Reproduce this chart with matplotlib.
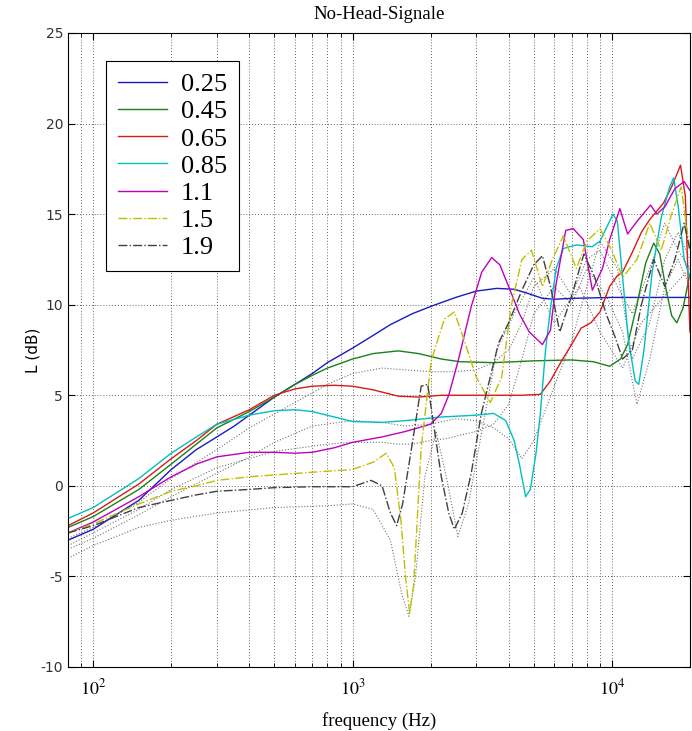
#!/usr/bin/env python3
"""
No-Head-Signale: level vs frequency for several distances (log frequency axis).
Saves out.png (692x731 px).
"""

import matplotlib.pyplot as plt
from matplotlib.ticker import LogLocator, NullFormatter, FixedLocator

# ---- Data (frequency in Hz, level in dB) ----
F_025 = [80, 100, 150, 200, 250, 300, 350, 400, 500, 600, 700, 800, 1000, 1200,
         1400, 1700, 2000, 2500, 3000, 3600, 4200, 4800, 5400, 6000, 7000, 10000, 20000]
L_025 = [-3.0, -2.4, -0.8, 0.9, 2.0, 2.7, 3.3, 3.9, 4.9, 5.6, 6.2, 6.8, 7.6, 8.3,
         8.9, 9.5, 9.9, 10.4, 10.75, 10.9, 10.85, 10.6, 10.35, 10.3, 10.35, 10.4, 10.4]

F_045 = [80, 100, 150, 200, 250, 300, 400, 500, 600, 700, 800, 1000, 1200, 1500,
         1800, 2200, 2600, 3500, 5000, 7000, 8500, 9800, 10800, 11500, 12500, 13500,
         14500, 15300, 16200, 17000, 17800, 18800, 20000]
L_045 = [-2.3, -1.7, -0.2, 1.2, 2.3, 3.2, 4.1, 4.9, 5.6, 6.1, 6.5, 7.0, 7.3, 7.45,
         7.3, 7.0, 6.85, 6.8, 6.9, 6.95, 6.85, 6.6, 7.0, 7.8, 10.0, 12.3,
         13.4, 12.8, 10.8, 9.4, 9.0, 9.8, 11.7]

F_065 = [80, 100, 150, 200, 250, 300, 400, 500, 600, 700, 850, 1000, 1200, 1500,
         1800, 2200, 3000, 4500, 5300, 5800, 6400, 7000, 7600, 8300, 9000, 9800,
         10500, 11000, 12000, 13000, 14000, 15800, 17000, 18400, 19200, 20000]
L_065 = [-2.2, -1.5, 0.1, 1.5, 2.5, 3.4, 4.2, 5.0, 5.35, 5.5, 5.55, 5.5, 5.3, 4.95,
         4.9, 5.0, 5.0, 5.0, 5.05, 5.8, 6.9, 7.8, 8.7, 9.0, 9.6, 11.0,
         11.6, 11.8, 12.9, 14.0, 14.7, 15.6, 16.5, 17.7, 16.0, 8.5]

F_085 = [80, 100, 150, 200, 250, 300, 400, 500, 600, 700, 850, 1000, 1300, 1600,
         2200, 3000, 3500, 3900, 4200, 4400, 4650, 4850, 5100, 5300, 5550, 5800,
         6100, 6500, 7300, 8400, 9000, 9500, 10100, 10500, 11000, 11600, 12300,
         12700, 13300, 14300, 15500, 16700, 17300, 18000, 19000, 20000]
L_085 = [-1.8, -1.2, 0.4, 1.8, 2.7, 3.4, 3.9, 4.15, 4.2, 4.1, 3.8, 3.55, 3.5, 3.6,
         3.8, 3.9, 4.0, 3.6, 2.5, 1.2, -0.6, -0.2, 1.8, 4.0, 7.5, 9.8,
         12.0, 13.1, 13.3, 13.2, 13.5, 14.2, 15.0, 14.6, 11.5, 8.0, 5.8,
         5.6, 7.5, 11.8, 14.8, 16.5, 17.0, 15.5, 12.5, 11.5]

F_11 = [80, 100, 150, 200, 250, 300, 400, 500, 600, 700, 850, 1000, 1300, 1600,
        2000, 2200, 2350, 2560, 2870, 3150, 3440, 3700, 4000, 4400, 4800, 5400,
        5800, 6070, 6640, 7090, 7760, 8410, 9200, 9810, 10740, 11500, 12500,
        14100, 14900, 16000, 17500, 19000, 20000]
L_11 = [-2.6, -2.0, -0.6, 0.5, 1.2, 1.6, 1.85, 1.85, 1.8, 1.85, 2.1, 2.4, 2.7, 3.0,
        3.4, 4.0, 5.0, 6.95, 9.9, 11.8, 12.6, 12.2, 11.0, 9.5, 8.5, 7.8,
        8.6, 11.0, 14.1, 14.2, 13.6, 10.8, 12.0, 13.6, 15.3, 13.9, 14.6,
        15.5, 15.0, 15.4, 16.4, 16.8, 16.3]

F_15 = [80, 100, 150, 200, 250, 300, 400, 500, 700, 1000, 1200, 1350, 1450, 1540,
        1600, 1660, 1720, 1840, 2010, 2260, 2470, 2700, 3000, 3400, 3760, 4100,
        4500, 4900, 5400, 5900, 6500, 7300, 8000, 9000, 10000, 11000, 12500,
        14000, 15500, 17000, 18500, 20000]
L_15 = [-2.6, -2.1, -1.0, -0.3, 0.0, 0.3, 0.5, 0.6, 0.75, 0.9, 1.3, 1.8, 1.0, -2.0,
        -5.0, -7.0, -5.5, 2.1, 6.9, 9.2, 9.6, 8.0, 6.0, 4.6, 6.0, 10.0,
        12.5, 13.0, 11.0, 12.5, 13.8, 12.0, 13.5, 14.2, 13.0, 11.5, 12.5,
        14.5, 13.0, 15.0, 16.5, 13.0]

F_19 = [80, 100, 150, 200, 250, 300, 400, 500, 700, 1000, 1180, 1300, 1400, 1480,
        1560, 1690, 1840, 1950, 2050, 2200, 2350, 2470, 2650, 2870, 3140, 3660,
        4000, 4500, 5000, 5400, 5800, 6300, 7000, 7800, 8600, 9500, 10300,
        11000, 12000, 13000, 14500, 16000, 17500, 19000, 20000]
L_19 = [-2.6, -2.2, -1.2, -0.8, -0.5, -0.3, -0.2, -0.1, -0.05, -0.05, 0.3, 0.0, -1.5, -2.2,
        -1.0, 2.1, 5.5, 5.6, 3.5, 0.5, -1.5, -2.4, -1.5, 0.7, 4.0, 7.9,
        9.0, 10.8, 12.2, 12.7, 11.0, 8.5, 10.5, 12.8, 11.5, 9.5, 8.2,
        7.0, 7.5, 10.0, 12.5, 11.0, 12.5, 14.5, 13.0]

LABELS = ["0.25", "0.45", "0.65", "0.85", "1.1", "1.5", "1.9"]
SERIES = [(F_025, L_025), (F_045, L_045), (F_065, L_065), (F_085, L_085),
          (F_11, L_11), (F_15, L_15), (F_19, L_19)]
COLORS = [(0.1, 0.1, 0.75), (0.1, 0.5, 0.1), (0.85, 0.1, 0.1), (0.0, 0.75, 0.75),
          (0.75, 0.0, 0.75), (0.75, 0.75, 0.0), (0.25, 0.25, 0.25)]
STYLES = ["-", "-", "-", "-", "-", "-.", "-."]

# faint dotted companion curves (not in legend)
D_F1 = [80, 100, 150, 200, 300, 500, 800, 1000, 1200, 1400, 1550, 1650, 1750, 1900,
        2100, 2300, 2550, 2800, 3200, 3600, 4200, 5000, 6000, 7500, 9000, 11000,
        13000, 16000, 20000]
D_L1 = [-4.0, -3.3, -2.3, -1.9, -1.5, -1.2, -1.1, -1.0, -1.3, -3.0, -6.0, -7.2, -5.0, 0.5,
        3.0, 0.5, -2.8, -1.0, 3.5, 7.5, 9.5, 11.5, 9.0, 11.0, 8.5, 6.5,
        9.0, 10.5, 12.0]
D_F2 = [80, 100, 150, 200, 300, 500, 800, 1000, 1300, 1500, 1700, 2000, 2300, 2600,
        3000, 3500, 4000, 4500, 5000, 6000, 7000, 8000, 9500, 11000, 12500,
        14000, 16000, 18000, 20000]
D_L2 = [-3.3, -2.6, -1.3, -0.2, 1.0, 1.9, 2.3, 2.4, 2.4, 2.3, 2.3, 2.5, 2.6, 2.8,
        3.0, 3.4, 4.5, 7.0, 9.5, 11.0, 10.0, 12.0, 10.5, 8.5, 4.5,
        7.0, 11.0, 12.5, 11.0]
D_F3 = [80, 100, 150, 200, 300, 400, 600, 800, 1000, 1300, 1600, 2000, 2500, 3000,
        3500, 4000, 4500, 5000, 6000, 7000, 8000, 9000, 10500, 12000, 14000,
        16000, 18000, 20000]
D_L3 = [-2.9, -2.3, -0.9, 0.4, 2.0, 3.2, 4.6, 5.6, 6.2, 6.5, 6.4, 6.3, 6.3, 6.4,
        6.8, 7.5, 9.0, 11.0, 12.0, 10.5, 12.5, 13.0, 11.0, 9.5, 12.0,
        14.5, 13.0, 12.0]
D_F4 = [80, 100, 150, 200, 300, 400, 500, 700, 1000, 1300, 1600, 2000, 2500, 3000,
        3500, 4000, 4500, 5000, 6000, 7000, 8000, 9000, 10500, 12000, 14000,
        16000, 18000, 20000]
D_L4 = [-3.5, -2.9, -1.6, -0.6, 0.7, 1.6, 2.4, 3.3, 3.6, 3.5, 3.3, 3.4, 3.7, 3.6,
        3.2, 2.6, 1.5, 2.5, 5.5, 8.0, 11.0, 13.5, 12.0, 7.0, 9.0,
        12.5, 14.0, 12.5]
DOTTED = [(D_F1, D_L1), (D_F2, D_L2), (D_F3, D_L3), (D_F4, D_L4)]

YTICKS = [-10, -5, 0, 5, 10, 15, 20, 25]
XTICKS = [100, 1000, 10000]
XTICKLABELS = [r"$10^{2}$", r"$10^{3}$", r"$10^{4}$"]

SERIF = ["Liberation Serif", "DejaVu Serif"]
GRID_DOTS = (0, (1, 2.5))


def main() -> None:
    plt.rcParams["mathtext.fontset"] = "stix"
    plt.rcParams["axes.unicode_minus"] = False

    fig = plt.figure(figsize=(6.92, 7.31), dpi=100)
    ax = fig.add_axes([0.0983, 0.0876, 0.8987, 0.8673])

    for f, l in DOTTED:
        ax.plot(f, l, linestyle=":", color=(0.45, 0.45, 0.45), linewidth=0.8)

    for (f, l), lab, col, ls in zip(SERIES, LABELS, COLORS, STYLES):
        ax.plot(f, l, linestyle=ls, color=col, linewidth=1.0, label=lab)

    ax.set_xscale("log")
    ax.set_xlim(80, 20000)
    ax.set_ylim(-10, 25)
    ax.yaxis.set_major_locator(FixedLocator(YTICKS))
    ax.set_xticks(XTICKS)
    ax.set_xticklabels(XTICKLABELS, fontsize=13)
    ax.xaxis.set_minor_locator(LogLocator(base=10, subs=range(2, 10), numticks=20))
    ax.xaxis.set_minor_formatter(NullFormatter())

    ax.grid(True, which="both", axis="x", linestyle=GRID_DOTS, color="0.2", linewidth=0.6)
    ax.grid(True, which="major", axis="y", linestyle=GRID_DOTS, color="0.2", linewidth=0.6)
    ax.tick_params(which="both", direction="in", top=True, right=True)
    ax.tick_params(which="major", length=5)
    ax.tick_params(which="minor", length=3)
    ax.tick_params(axis="x", pad=8)
    ax.tick_params(axis="y", labelsize=10)
    for lbl in ax.get_yticklabels():
        lbl.set_color((0.2, 0.2, 0.2))
    for s in ax.spines.values():
        s.set_linewidth(0.8)

    ax.set_title("No-Head-Signale", fontsize=13.5, family=SERIF, pad=10)
    ax.set_xlabel("frequency (Hz)", fontsize=13.5, family=SERIF, labelpad=10)
    ax.set_ylabel("L (dB)", fontsize=11, labelpad=0)

    leg = ax.legend(loc="upper left", bbox_to_anchor=(0.061, 0.956),
                    prop={"family": SERIF, "size": 19}, frameon=True,
                    fancybox=False, edgecolor="k", framealpha=1.0,
                    handlelength=1.85, handletextpad=0.55, labelspacing=0.14,
                    borderpad=0.45, borderaxespad=0.0)
    leg.get_frame().set_linewidth(0.8)

    fig.savefig("out.png", dpi=100)
    plt.close(fig)


if __name__ == "__main__":
    main()
